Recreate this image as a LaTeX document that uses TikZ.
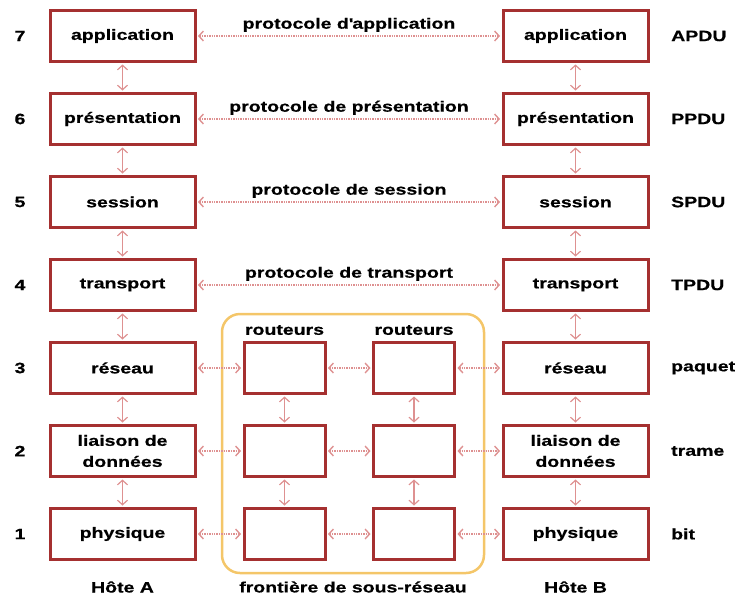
\documentclass[tikz,border=0pt]{standalone}
\usepackage{fontspec}
\setmainfont[FakeStretch=1.3, BoldFeatures={FakeBold=0.5}]{Liberation Sans}
\usetikzlibrary{arrows.meta}

\definecolor{boxred}{RGB}{165,48,48}
\definecolor{linkpink}{RGB}{222,145,145}
\definecolor{frameorange}{RGB}{244,198,105}

\tikzset{
  txt/.style={font=\fontsize{15}{21}\selectfont\bfseries, inner sep=1pt},
  layerbox/.style={txt, draw=boxred, line width=3pt, minimum width=145pt,
    minimum height=51pt, align=center},
  routerbox/.style={draw=boxred, line width=3pt, minimum width=81pt,
    minimum height=51pt, inner sep=0pt},
  link/.style={draw=linkpink, densely dotted, line width=1.4pt,
    {Straight Barb[length=4.5pt,width=10pt]}-{Straight Barb[length=4.5pt,width=10pt]},
    shorten <=1.5pt, shorten >=1.5pt},
  vlink/.style={link, solid, line width=1.2pt},
  frame/.style={draw=frameorange, line width=2.5pt, rounded corners=18pt}
}

\begin{document}
\begin{tikzpicture}[x=1pt,y=-1pt]
\useasboundingbox (0,0) rectangle (739,595);

% subnet boundary
\draw[frame] (222,314) rectangle (484,573);

% host A, host B stacks
\foreach \n/\y/\name/\unit in {
    7/36/application/APDU,
    6/119/présentation/PPDU,
    5/202/session/SPDU,
    4/285/transport/TPDU,
    3/368/réseau/paquet,
    2/451/{liaison de\\données}/trame,
    1/534/physique/bit}{
  \node[txt] (N\n) at (20,\y) {\n};
  \node[layerbox] (L\n) at (122.5,\y) {\name};
  \node[layerbox] (R\n) at (575.5,\y) {\name};
  \node[txt, anchor=west] (U\n) at (670,\y) {\unit};
}

% routers
\foreach \n/\y in {3/368, 2/451, 1/534}{
  \node[routerbox] (A\n) at (284.5,\y) {};
  \node[routerbox] (B\n) at (414,\y) {};
}
\node[txt] (RA) at (284.5,330) {routeurs};
\node[txt] (RB) at (414,330) {routeurs};

% vertical links
\foreach \a/\b in {7/6, 6/5, 5/4, 4/3, 3/2, 2/1}{
  \draw[vlink] (L\a) -- (L\b);
  \draw[vlink] (R\a) -- (R\b);
}
\foreach \a/\b in {3/2, 2/1}{
  \draw[vlink] (A\a) -- (A\b);
  \draw[vlink] (B\a) -- (B\b);
}

% peer protocols
\draw[link] (L7) -- node[txt, above=2.5pt] {protocole d\textquotesingle application} (R7);
\draw[link] (L6) -- node[txt, above=2.5pt] {protocole de présentation} (R6);
\draw[link] (L5) -- node[txt, above=2.5pt] {protocole de session} (R5);
\draw[link] (L4) -- node[txt, above=2.5pt] {protocole de transport} (R4);

% subnet links
\foreach \n in {3,2,1}{
  \draw[link] (L\n) -- (A\n);
  \draw[link] (A\n) -- (B\n);
  \draw[link] (B\n) -- (R\n);
}

% bottom captions
\node[txt] (HA) at (122.5,587) {Hôte A};
\node[txt] (HS) at (353,587) {frontière de sous-réseau};
\node[txt] (HB) at (575.5,587) {Hôte B};
\end{tikzpicture}
\end{document}
